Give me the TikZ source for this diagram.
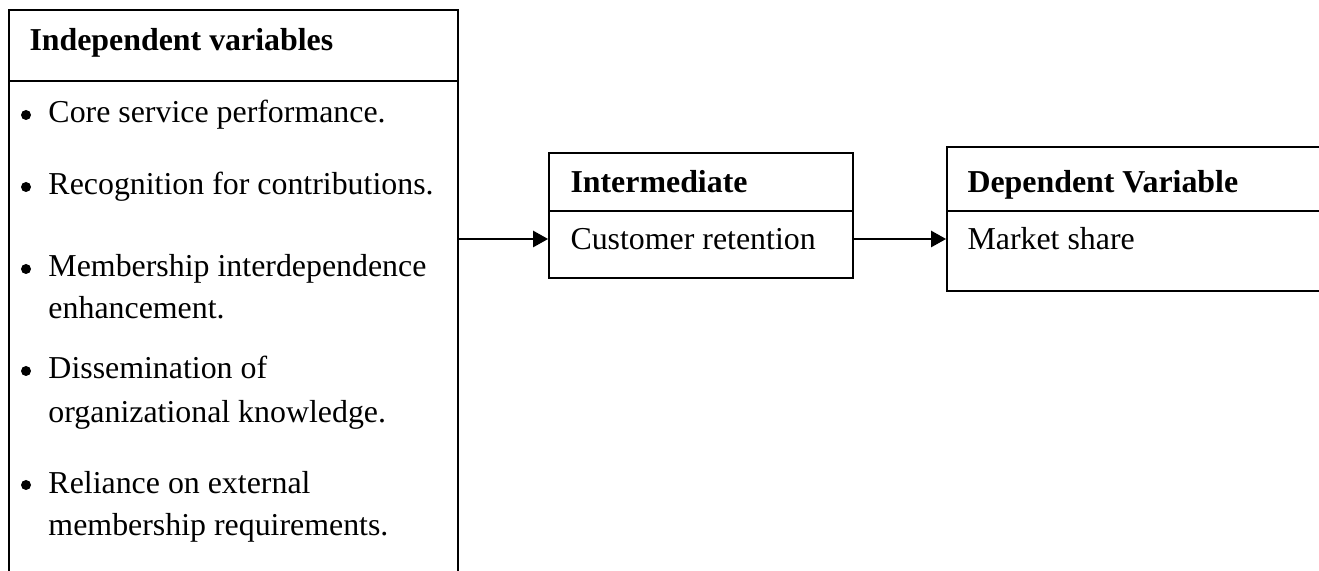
\documentclass[tikz,border=0pt]{standalone}
\usepackage{fontspec}
\setmainfont{Liberation Serif}
\usetikzlibrary{arrows.meta,fit}
\begin{document}
\begin{tikzpicture}[x=0.4pt,y=-0.4pt,
  frame/.style={draw, line width=0.7pt, inner sep=0pt, rectangle},
  txt/.style={anchor=base west, inner sep=0pt, font=\fontsize{12.75}{15}\selectfont},
  hd/.style={anchor=base west, inner sep=0pt, font=\fontsize{12.75}{15}\selectfont\bfseries},
  dot/.style={circle, fill, inner sep=0pt, minimum size=4pt},
  arr/.style={line width=1pt, -{Triangle[length=6pt,width=6.4pt]}},
  rulel/.style={line width=0.7pt}]
\useasboundingbox (0,0) rectangle (1319,571);
\clip (0,0) rectangle (1319,571);
% boxes
\node[frame, fit={(9,10) (458,640)}] (ind) {};
\node[frame, fit={(549,153) (853,278)}] (int) {};
\node[frame, fit={(947,147) (1360,291)}] (dep) {};
% header separators
\draw[rulel] (ind.west |- 0,81) -- (ind.east |- 0,81);
\draw[rulel] (int.west |- 0,211) -- (int.east |- 0,211);
\draw[rulel] (dep.west |- 0,211) -- (dep.east |- 0,211);
% texts of the independent box
\node[hd] (indh) at (29,51) {Independent variables};
\node[dot] (b1) at (26,115) {};
\node[txt] (t1) at (48,123) {Core service performance.};
\node[dot] (b2) at (26,187) {};
\node[txt] (t2) at (48,195) {Recognition for contributions.};
\node[dot] (b3) at (26,269) {};
\node[txt] (t3a) at (48,277) {Membership interdependence};
\node[txt] (t3b) at (48,319) {enhancement.};
\node[dot] (b4) at (26,371) {};
\node[txt] (t4a) at (48,379) {Dissemination of};
\node[txt] (t4b) at (48,423) {organizational knowledge.};
\node[dot] (b5) at (26,485) {};
\node[txt] (t5a) at (48,493) {Reliance on external};
\node[txt] (t5b) at (48,535) {membership requirements.};
% intermediate
\node[hd] (inth) at (570,193) {Intermediate};
\node[txt] (intt) at (570,250) {Customer retention};
% dependent
\node[hd] (deph) at (967,193) {Dependent Variable};
\node[txt] (dept) at (967,250) {Market share};
% connectors
\coordinate (lvl) at (0,239);
\draw[arr] (ind.east |- lvl) -- (int.west |- lvl);
\draw[arr] (int.east |- lvl) -- (dep.west |- lvl);
\end{tikzpicture}
\end{document}
